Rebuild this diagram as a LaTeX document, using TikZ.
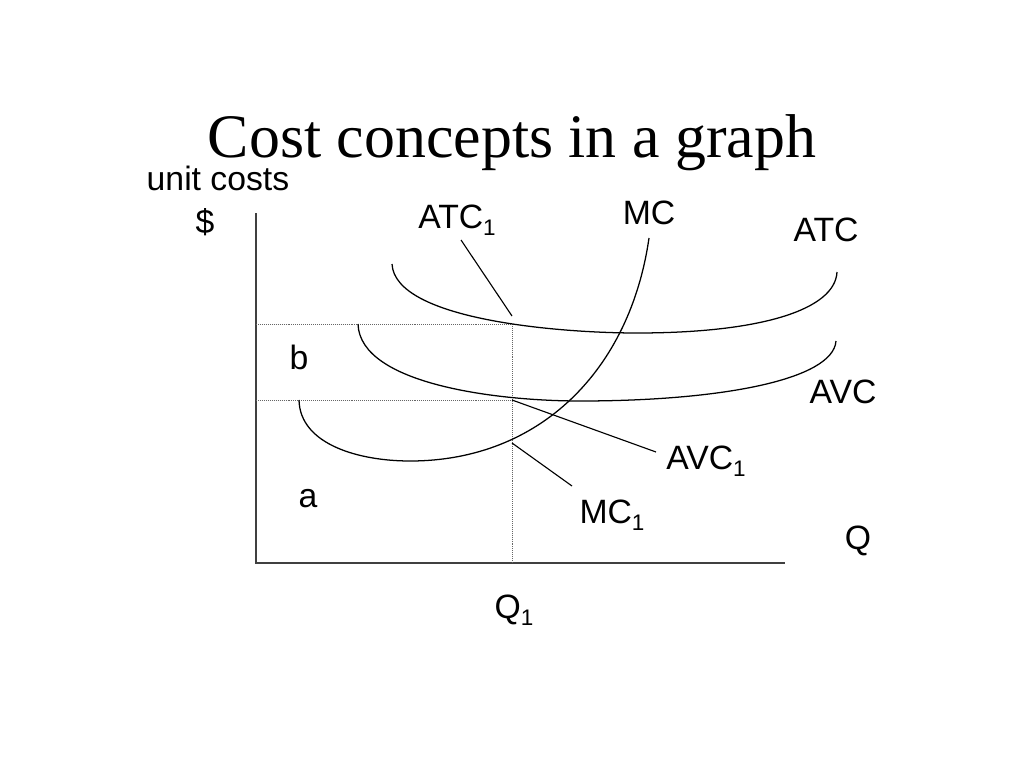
\documentclass[tikz,border=0pt]{standalone}
\usepackage{fontspec}
\setmainfont{Liberation Serif}
\setsansfont{Liberation Sans}
\newcommand{\lowsub}[1]{\raisebox{-5pt}{\fontsize{16}{16}\selectfont #1}}

\begin{document}
\begin{tikzpicture}[x=0.025cm,y=-0.025cm,lbl/.style={font=\sffamily\fontsize{24}{28}\selectfont,anchor=base,inner sep=0pt},curve/.style={line width=0.9pt},axis/.style={line width=1.4pt,black!75},guide/.style={line width=0.7pt,black!60,dash pattern=on 0.7pt off 0.7pt},leader/.style={line width=0.8pt}]
\useasboundingbox (0,0) rectangle (1024,768);

\node[font=\fontsize{44}{50}\selectfont,anchor=base,inner sep=0pt] (title) at (512,157) {Cost concepts in a graph};

\coordinate (O) at (256,563);
\coordinate (ytop) at (256,213);
\coordinate (xend) at (785,563);
\draw[axis] (ytop) -- (O) -- (xend);

\coordinate (hb) at (256,324);
\coordinate (ha) at (256,400);
\coordinate (q1top) at (512,324);
\coordinate (q1mid) at (512,400);
\coordinate (q1bot) at (512,563);
\draw[guide] (hb) -- (q1top);
\draw[guide] (ha) -- (q1mid);
\draw[guide] (q1top) -- (q1bot);

\coordinate (atcL) at (392,264);
\coordinate (atcMin) at (637,333);
\coordinate (atcR) at (837,272);
\draw[curve] (atcL) .. controls (395,320) and (560,333) .. (atcMin) .. controls (760,333) and (835,310) .. (atcR);

\coordinate (avcL) at (358,324);
\coordinate (avcMin) at (580,401);
\coordinate (avcR) at (836,341);
\draw[curve] (avcL) .. controls (360,385) and (500,401) .. (avcMin) .. controls (720,401) and (833,380) .. (avcR);

\coordinate (mcL) at (299,400);
\coordinate (mcMin) at (410,461);
\coordinate (mcTop) at (649,238);
\draw[curve] (mcL) .. controls (300,445) and (360,461) .. (mcMin) .. controls (540,461) and (630,370) .. (mcTop);

\node[lbl] (unit) at (218,190) {unit costs};
\node[lbl] (dollar) at (205,233) {\$};
\node[lbl] (atcA) at (457,228) {ATC\lowsub{1}};
\node[lbl] (mc) at (649,224) {MC};
\node[lbl] (atc) at (826,241) {ATC};
\node[lbl] (b) at (299,369) {b};
\node[lbl] (avc) at (843,403) {AVC};
\node[lbl] (avcA) at (706,469) {AVC\lowsub{1}};
\node[lbl] (a) at (308,507) {a};
\node[lbl] (mcA) at (612,523) {MC\lowsub{1}};
\node[lbl] (q) at (858,549) {Q};
\node[lbl] (qA) at (514,618) {Q\lowsub{1}};

\coordinate (atcAfoot) at (461,240);
\coordinate (atcAtip) at (512,316);
\draw[leader] (atcAfoot) -- (atcAtip);
\coordinate (avcAfoot) at (656,452);
\draw[leader] (avcAfoot) -- (q1mid);
\coordinate (mcAfoot) at (572,486);
\coordinate (mcAtip) at (512,443);
\draw[leader] (mcAfoot) -- (mcAtip);
\end{tikzpicture}
\end{document}
